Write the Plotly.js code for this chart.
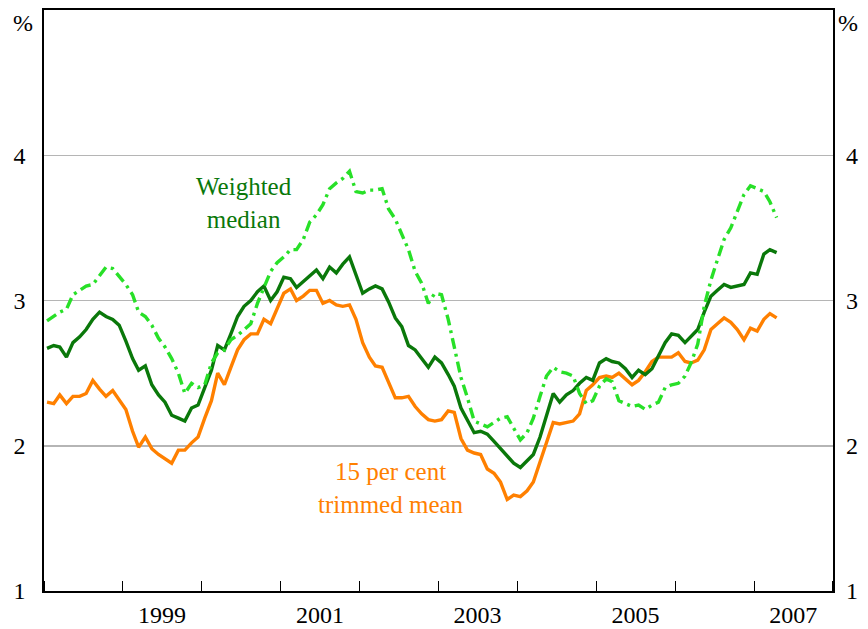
<!DOCTYPE html>
<html>
<head>
<meta charset="utf-8">
<script src="https://cdn.plot.ly/plotly-3.0.1.min.js"></script>
<style>
html,body{margin:0;padding:0;background:#fff;}
#chart{width:868px;height:629px;}
</style>
</head>
<body>
<div id="chart"></div>
<script>
// Monthly observations, Jan 1998 to Apr 2007 (per cent, year-ended)
var startYear = 1998;
var startMonth = 1;

var weightedMedian = [
  2.67, 2.69, 2.68, 2.61, 2.71, 2.75, 2.80, 2.87, 2.92, 2.89, 2.87, 2.83,
  2.72, 2.60, 2.52, 2.55, 2.42, 2.35, 2.30, 2.21, 2.19, 2.17, 2.26, 2.28,
  2.40, 2.52, 2.69, 2.66, 2.77, 2.89, 2.96, 3.00, 3.06, 3.10, 3.00, 3.06,
  3.16, 3.15, 3.09, 3.13, 3.17, 3.21, 3.15, 3.23, 3.19, 3.25, 3.30, 3.18,
  3.05, 3.08, 3.10, 3.08, 2.99, 2.88, 2.82, 2.69, 2.66, 2.60, 2.54, 2.61,
  2.57, 2.49, 2.41, 2.26, 2.17, 2.09, 2.10, 2.08, 2.03, 1.98, 1.93, 1.88,
  1.85, 1.90, 1.94, 2.06, 2.21, 2.36, 2.30, 2.35, 2.38, 2.43, 2.47, 2.45,
  2.57, 2.60, 2.58, 2.57, 2.53, 2.47, 2.52, 2.49, 2.53, 2.62, 2.71, 2.77,
  2.76, 2.71, 2.75, 2.80, 2.92, 3.03, 3.07, 3.11, 3.09, 3.10, 3.11, 3.19,
  3.18, 3.32, 3.35, 3.33
];

var trimmedMean = [
  2.30, 2.29, 2.35, 2.29, 2.34, 2.34, 2.36, 2.45, 2.39, 2.34, 2.38, 2.32,
  2.25, 2.10, 1.99, 2.06, 1.98, 1.94, 1.91, 1.88, 1.97, 1.97, 2.02, 2.06,
  2.19, 2.31, 2.50, 2.42, 2.54, 2.66, 2.73, 2.77, 2.77, 2.87, 2.84, 2.95,
  3.05, 3.08, 3.00, 3.03, 3.07, 3.07, 2.98, 3.00, 2.97, 2.96, 2.97, 2.87,
  2.71, 2.61, 2.55, 2.54, 2.43, 2.33, 2.33, 2.34, 2.27, 2.22, 2.18, 2.17,
  2.18, 2.24, 2.23, 2.05, 1.97, 1.95, 1.94, 1.84, 1.81, 1.75, 1.63, 1.66,
  1.65, 1.69, 1.75, 1.89, 2.03, 2.16, 2.15, 2.16, 2.17, 2.22, 2.38, 2.42,
  2.47, 2.48, 2.47, 2.50, 2.46, 2.42, 2.45, 2.51, 2.58, 2.61, 2.61, 2.61,
  2.64, 2.58, 2.57, 2.59, 2.66, 2.80, 2.84, 2.88, 2.85, 2.80, 2.73, 2.81,
  2.79, 2.87, 2.91, 2.88
];

var dashedSeries = [
  2.86, 2.89, 2.92, 2.94, 3.04, 3.07, 3.10, 3.11, 3.17, 3.23, 3.22, 3.17,
  3.11, 3.04, 2.92, 2.89, 2.83, 2.74, 2.68, 2.60, 2.50, 2.36, 2.43, 2.40,
  2.42, 2.57, 2.64, 2.66, 2.73, 2.76, 2.80, 2.84, 2.98, 3.09, 3.20, 3.26,
  3.30, 3.35, 3.35, 3.42, 3.54, 3.59, 3.66, 3.77, 3.81, 3.84, 3.89, 3.75,
  3.74, 3.76, 3.76, 3.77, 3.63, 3.56, 3.46, 3.35, 3.20, 3.12, 2.98, 3.05,
  3.04, 2.87, 2.68, 2.47, 2.33, 2.17, 2.15, 2.13, 2.16, 2.19, 2.20, 2.12,
  2.04, 2.09, 2.19, 2.34, 2.48, 2.54, 2.51, 2.50, 2.48, 2.36, 2.29, 2.31,
  2.41, 2.46, 2.44, 2.31, 2.29, 2.27, 2.28, 2.25, 2.28, 2.30, 2.40, 2.42,
  2.43, 2.48, 2.57, 2.70, 2.96, 3.14, 3.28, 3.42, 3.50, 3.62, 3.73, 3.79,
  3.77, 3.75, 3.68, 3.57
];

var yTickVals = [1, 2, 3, 4];
var yTickText = ['1', '2', '3', '4'];
var xLabelYears = ['1999', '2001', '2003', '2005', '2007'];

// build month dates (mid-month)
var dates = [];
for (var k = 0; k < weightedMedian.length; k++) {
  var y = startYear + Math.floor((startMonth - 1 + k) / 12);
  var m = ((startMonth - 1 + k) % 12) + 1;
  dates.push(y + '-' + (m < 10 ? '0' + m : m) + '-15');
}
var xLabelVals = xLabelYears.map(function (s) { return s + '-07-01'; });

var FONT = '"Liberation Serif", "Times New Roman", Times, serif';
var DARK = '#0a780a';
var ORANGE = '#ff8000';
var LIGHT = '#28e028';

var traces = [
  {
    x: dates, y: dashedSeries, type: 'scatter', mode: 'lines',
    line: {color: LIGHT, width: 3.4, dash: '11px,5px,3px,5px'},
    yaxis: 'y2', hoverinfo: 'skip'
  },
  {
    x: dates, y: trimmedMean, type: 'scatter', mode: 'lines',
    line: {color: ORANGE, width: 3.4}, hoverinfo: 'skip'
  },
  {
    x: dates, y: weightedMedian, type: 'scatter', mode: 'lines',
    line: {color: DARK, width: 3.4}, hoverinfo: 'skip'
  }
];

var layout = {
  width: 868, height: 629,
  margin: {l: 43.5, r: 35.3, t: 10, b: 37.5},
  paper_bgcolor: '#fff', plot_bgcolor: '#fff',
  showlegend: false,
  font: {family: FONT, size: 24, color: '#000'},
  xaxis: {
    type: 'date',
    range: ['1998-01-01', '2008-01-01'],
    tickmode: 'array', tickvals: xLabelVals, ticktext: xLabelYears,
    ticks: '', showgrid: false, zeroline: false,
    showline: true, linecolor: '#000', linewidth: 1.6, mirror: true,
    tickfont: {family: FONT, size: 24, color: '#000'},
    ticklabelstandoff: 2,
    minor: {
      tickmode: 'linear', tick0: '1998-01-01', dtick: 'M12',
      ticks: 'inside', ticklen: 10, tickwidth: 1.2, tickcolor: '#000',
      showgrid: false
    }
  },
  yaxis: {
    range: [1, 5], tickmode: 'array', tickvals: yTickVals, ticktext: yTickText,
    ticks: '', showgrid: true, gridcolor: '#b5b5b5', gridwidth: 1.5,
    zeroline: false, showline: true, linecolor: '#000', linewidth: 1.6, mirror: true,
    tickfont: {family: FONT, size: 24, color: '#000'},
    ticklabelstandoff: 12
  },
  yaxis2: {
    overlaying: 'y', side: 'right', matches: 'y',
    range: [1, 5], tickmode: 'array', tickvals: yTickVals, ticktext: yTickText,
    ticks: '', showgrid: false, zeroline: false, showline: false,
    tickfont: {family: FONT, size: 24, color: '#000'},
    ticklabelstandoff: 12
  },
  annotations: [
    {text: '%', xref: 'paper', yref: 'paper', x: -0.026, y: 0.978,
     xanchor: 'center', yanchor: 'middle', showarrow: false,
     font: {family: FONT, size: 24, color: '#000'}},
    {text: '%', xref: 'paper', yref: 'paper', x: 1.019, y: 0.978,
     xanchor: 'center', yanchor: 'middle', showarrow: false,
     font: {family: FONT, size: 24, color: '#000'}},
    {text: 'Weighted<br>median', xref: 'x', yref: 'y', x: '2000-07-15', y: 3.67,
     xanchor: 'center', yanchor: 'middle', showarrow: false, align: 'center',
     font: {family: FONT, size: 25, color: DARK}},
    {text: '15 per cent<br>trimmed mean', xref: 'x', yref: 'y', x: '2002-05-25', y: 1.71,
     xanchor: 'center', yanchor: 'middle', showarrow: false, align: 'center',
     font: {family: FONT, size: 25, color: ORANGE}}
  ]
};

Plotly.newPlot('chart', traces, layout, {staticPlot: true, displayModeBar: false});
</script>
</body>
</html>
